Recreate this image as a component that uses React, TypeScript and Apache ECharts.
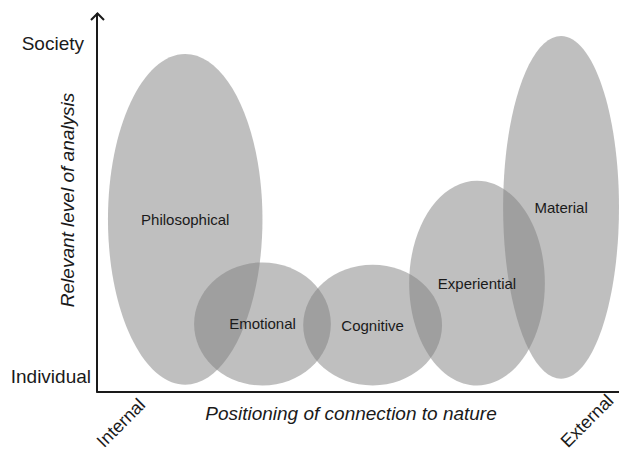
import React, { useEffect, useRef } from "react";
import * as echarts from "echarts";

// Ellipse data (data units: x 0..100 along "Positioning", y 0..100 along "Level")
const names = ["Philosophical", "Emotional", "Cognitive", "Experiential", "Material"];
const centerX = [16.9, 31.7, 52.8, 72.8, 88.9];
const centerY = [45.6, 17.9, 17.6, 28.7, 48.8];
const radiusX = [14.8, 13.1, 13.3, 13.0, 11.1];
const radiusY = [43.8, 16.3, 16.0, 27.1, 45.4];

const xTickLabels = ["Internal", "External"];
const yTickLabels = ["Individual", "Society"];
const xAxisTitle = "Positioning of connection to nature";
const yAxisTitle = "Relevant level of analysis";

const FONT = "'Liberation Sans', Arial, Helvetica, sans-serif";
const INK = "#1a1a1a";

export default function App() {
  const ref = useRef<HTMLDivElement>(null);
  useEffect(() => {
    if (!ref.current) return;
    const chart = echarts.init(ref.current, null, { renderer: "svg" });
    const data = names.map((n, i) => ({
      name: n,
      value: [centerX[i], centerY[i], radiusX[i], radiusY[i]],
    }));
    chart.setOption({
      animation: false,
      backgroundColor: "#ffffff",
      grid: { left: 97, right: 0, top: 14, bottom: 61.5, containLabel: false },
      xAxis: {
        type: "value",
        min: 0,
        max: 100,
        axisLine: { show: true, onZero: false, lineStyle: { color: INK, width: 2 } },
        axisTick: { show: false },
        axisLabel: { show: false },
        splitLine: { show: false },
      },
      yAxis: {
        type: "value",
        min: 0,
        max: 100,
        axisLine: { show: true, onZero: false, lineStyle: { color: INK, width: 2 } },
        axisTick: { show: false },
        axisLabel: { show: false },
        splitLine: { show: false },
      },
      series: [
        {
          type: "custom",
          clip: false,
          data,
          renderItem: (params: any, api: any) => {
            const c = api.coord([api.value(0), api.value(1)]);
            const s = api.size([api.value(2), api.value(3)]);
            return {
              type: "ellipse",
              shape: { cx: c[0], cy: c[1], rx: s[0], ry: s[1] },
              style: { fill: "rgba(128,128,128,0.5)" },
            };
          },
        },
        {
          type: "custom",
          clip: false,
          data,
          z: 5,
          renderItem: (params: any, api: any) => {
            const c = api.coord([api.value(0), api.value(1)]);
            return {
              type: "text",
              x: c[0],
              y: c[1],
              style: {
                text: names[params.dataIndex],
                fill: INK,
                font: `15px ${FONT}`,
                align: "center",
                verticalAlign: "middle",
              },
            };
          },
        },
      ],
      graphic: [
        {
          type: "polyline",
          shape: { points: [[91, 20], [97.5, 13.5], [104, 20]] },
          style: { stroke: INK, lineWidth: 2, fill: "none" },
          z: 10,
        },
        {
          type: "text",
          x: 84,
          y: 43,
          style: { text: yTickLabels[1], font: `19px ${FONT}`, fill: INK, align: "right", verticalAlign: "middle" },
        },
        {
          type: "text",
          x: 91,
          y: 376,
          style: { text: yTickLabels[0], font: `19px ${FONT}`, fill: INK, align: "right", verticalAlign: "middle" },
        },
        {
          type: "text",
          x: 121,
          y: 423,
          rotation: Math.PI / 4,
          style: { text: xTickLabels[0], font: `18px ${FONT}`, fill: INK, align: "center", verticalAlign: "middle" },
        },
        {
          type: "text",
          x: 587,
          y: 421,
          rotation: Math.PI / 4,
          style: { text: xTickLabels[1], font: `18px ${FONT}`, fill: INK, align: "center", verticalAlign: "middle" },
        },
        {
          type: "text",
          x: 351,
          y: 413,
          style: { text: xAxisTitle, font: `italic 19px ${FONT}`, fill: INK, align: "center", verticalAlign: "middle" },
        },
        {
          type: "text",
          x: 67,
          y: 200,
          rotation: Math.PI / 2,
          style: { text: yAxisTitle, font: `italic 19px ${FONT}`, fill: INK, align: "center", verticalAlign: "middle" },
        },
      ],
    });
    return () => chart.dispose();
  }, []);
  return (
    <div
      ref={ref}
      style={{ position: "fixed", left: 0, top: 0, width: 619, height: 453 }}
    />
  );
}
